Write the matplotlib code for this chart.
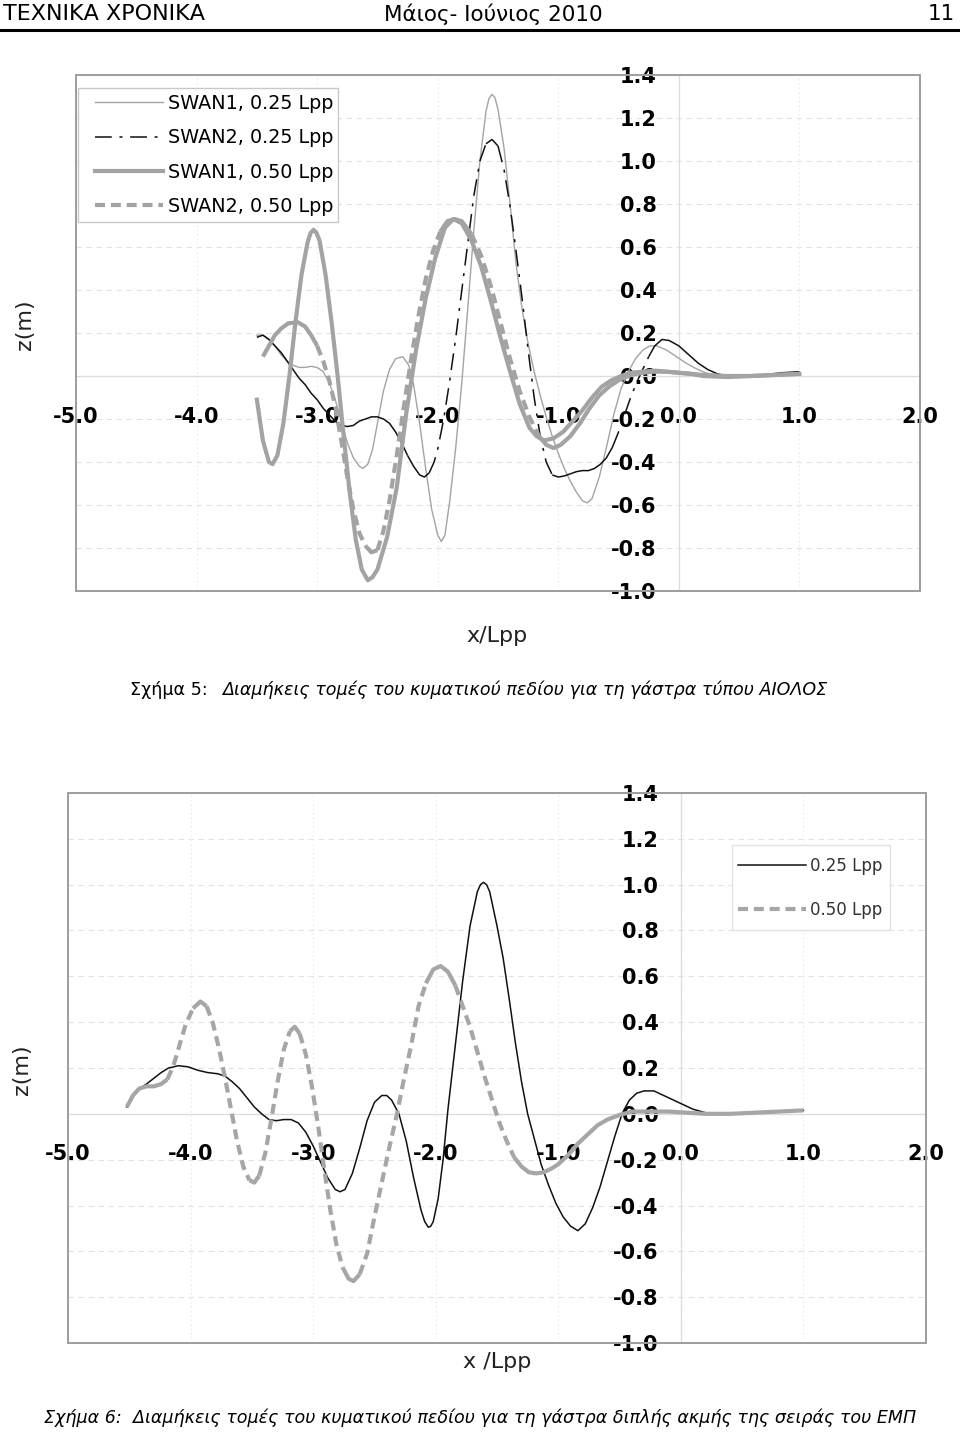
import numpy as np
import matplotlib
matplotlib.use('Agg')
import matplotlib.pyplot as plt
from matplotlib.lines import Line2D
from matplotlib.patches import Rectangle

plt.rcParams['font.family'] = ['DejaVu Sans', 'Noto Sans']

# ---------------- Figure 5 (AIOLOS hull), x/Lpp vs z(m) ----------------
x_swan1_025 = [-3.50, -3.45, -3.40, -3.35, -3.30, -3.25, -3.20, -3.15, -3.10, -3.05,
               -3.00, -2.95, -2.90, -2.85, -2.80, -2.75, -2.70, -2.65, -2.62, -2.58,
               -2.54, -2.50, -2.45, -2.40, -2.35, -2.29, -2.24, -2.20, -2.15, -2.10,
               -2.05, -2.00, -1.97, -1.94, -1.90, -1.85, -1.80, -1.75, -1.70, -1.65,
               -1.60, -1.575, -1.55, -1.525, -1.50, -1.45, -1.40, -1.35, -1.30, -1.25,
               -1.20, -1.15, -1.10, -1.05, -1.00, -0.95, -0.90, -0.85, -0.80, -0.76,
               -0.72, -0.66, -0.60, -0.54, -0.48, -0.42, -0.36, -0.30, -0.24, -0.18,
               -0.10, -0.02, 0.06, 0.14, 0.22, 0.30, 0.45, 0.60, 0.80, 1.00]
z_swan1_025 = [0.19, 0.19, 0.17, 0.14, 0.10, 0.07, 0.05, 0.04, 0.04, 0.045,
               0.04, 0.02, -0.03, -0.11, -0.21, -0.31, -0.38, -0.42, -0.43, -0.41,
               -0.34, -0.22, -0.07, 0.03, 0.08, 0.09, 0.05, -0.04, -0.22, -0.43,
               -0.62, -0.74, -0.77, -0.74, -0.58, -0.33, -0.03, 0.32, 0.68, 1.00,
               1.23, 1.29, 1.31, 1.295, 1.24, 1.06, 0.80, 0.52, 0.31, 0.15,
               0.02, -0.09, -0.19, -0.28, -0.36, -0.43, -0.49, -0.54, -0.58, -0.59,
               -0.57, -0.47, -0.33, -0.18, -0.06, 0.02, 0.08, 0.12, 0.14, 0.14,
               0.12, 0.09, 0.06, 0.035, 0.015, 0.005, 0.0, 0.0, 0.005, 0.01]

x_swan2_025 = [-3.50, -3.45, -3.40, -3.35, -3.30, -3.25, -3.20, -3.15, -3.10, -3.05,
               -3.00, -2.95, -2.90, -2.85, -2.80, -2.75, -2.70, -2.65, -2.60, -2.55,
               -2.50, -2.45, -2.40, -2.35, -2.30, -2.25, -2.20, -2.15, -2.11, -2.07,
               -2.03, -2.00, -1.95, -1.90, -1.85, -1.80, -1.75, -1.70, -1.65, -1.60,
               -1.55, -1.50, -1.45, -1.40, -1.35, -1.30, -1.25, -1.20, -1.15, -1.10,
               -1.05, -1.00, -0.95, -0.90, -0.85, -0.80, -0.75, -0.70, -0.65, -0.60,
               -0.55, -0.50, -0.45, -0.40, -0.35, -0.30, -0.25, -0.20, -0.14, -0.08,
               0.00, 0.08, 0.16, 0.24, 0.32, 0.40, 0.55, 0.70, 0.85, 1.00]
z_swan2_025 = [0.18, 0.19, 0.17, 0.14, 0.11, 0.07, 0.03, -0.01, -0.04, -0.08,
               -0.11, -0.15, -0.18, -0.21, -0.23, -0.235, -0.23, -0.21, -0.20, -0.19,
               -0.19, -0.20, -0.22, -0.26, -0.31, -0.37, -0.42, -0.46, -0.47, -0.45,
               -0.40, -0.34, -0.20, -0.02, 0.18, 0.40, 0.62, 0.84, 1.00, 1.08,
               1.10, 1.07, 0.96, 0.79, 0.58, 0.36, 0.12, -0.10, -0.28, -0.40,
               -0.46, -0.47, -0.465, -0.455, -0.445, -0.44, -0.44, -0.43, -0.41, -0.38,
               -0.33, -0.26, -0.18, -0.10, -0.03, 0.03, 0.09, 0.14, 0.17, 0.165,
               0.14, 0.10, 0.06, 0.03, 0.01, 0.0, 0.0, 0.005, 0.015, 0.02]

x_swan1_050 = [-3.50, -3.45, -3.40, -3.37, -3.33, -3.28, -3.23, -3.18, -3.13, -3.08,
               -3.055, -3.03, -3.005, -2.98, -2.93, -2.88, -2.83, -2.78, -2.73, -2.68,
               -2.63, -2.58, -2.54, -2.50, -2.42, -2.34, -2.26, -2.18, -2.10, -2.02,
               -1.94, -1.87, -1.80, -1.72, -1.64, -1.56, -1.48, -1.40, -1.32, -1.24,
               -1.18, -1.12, -1.04, -0.96, -0.88, -0.80, -0.72, -0.64, -0.56, -0.48,
               -0.40, -0.30, -0.20, -0.10, 0.00, 0.10, 0.20, 0.40, 0.60, 0.80,
               1.00]
z_swan1_050 = [-0.11, -0.30, -0.40, -0.41, -0.37, -0.22, 0.00, 0.25, 0.47, 0.62,
               0.665, 0.68, 0.665, 0.63, 0.47, 0.25, 0.00, -0.28, -0.54, -0.76,
               -0.90, -0.95, -0.935, -0.90, -0.75, -0.52, -0.17, 0.12, 0.36, 0.55,
               0.69, 0.73, 0.71, 0.63, 0.51, 0.35, 0.18, 0.02, -0.13, -0.24,
               -0.28, -0.30, -0.29, -0.26, -0.21, -0.16, -0.10, -0.05, -0.02, 0.00,
               0.015, 0.02, 0.025, 0.02, 0.015, 0.01, 0.005, 0.0, 0.0, 0.005,
               0.01]

x_swan2_050 = [-3.45, -3.40, -3.35, -3.30, -3.24, -3.16, -3.10, -3.05, -3.00, -2.95,
               -2.90, -2.85, -2.80, -2.75, -2.70, -2.65, -2.60, -2.55, -2.50, -2.45,
               -2.40, -2.34, -2.28, -2.22, -2.16, -2.10, -2.04, -1.98, -1.92, -1.86,
               -1.80, -1.72, -1.64, -1.56, -1.48, -1.40, -1.32, -1.24, -1.16, -1.10,
               -1.04, -0.98, -0.90, -0.82, -0.74, -0.66, -0.58, -0.50, -0.40, -0.30,
               -0.20, -0.10, 0.00, 0.10, 0.20, 0.40, 0.60, 0.80, 1.00]
z_swan2_050 = [0.09, 0.14, 0.19, 0.22, 0.245, 0.25, 0.23, 0.19, 0.14, 0.07,
               -0.02, -0.14, -0.30, -0.47, -0.62, -0.73, -0.79, -0.82, -0.81, -0.72,
               -0.58, -0.37, -0.14, 0.08, 0.28, 0.45, 0.58, 0.67, 0.72, 0.73,
               0.72, 0.66, 0.56, 0.42, 0.25, 0.08, -0.07, -0.19, -0.28, -0.32,
               -0.335, -0.32, -0.28, -0.22, -0.15, -0.09, -0.05, -0.02, 0.005, 0.015,
               0.02, 0.02, 0.015, 0.01, 0.0, -0.005, 0.0, 0.005, 0.01]

# ---------------- Figure 6 (double chine hull) ----------------
x_025 = [-4.52, -4.47, -4.42, -4.36, -4.30, -4.24, -4.18, -4.10, -4.02, -3.94,
         -3.86, -3.78, -3.72, -3.66, -3.60, -3.54, -3.48, -3.42, -3.36, -3.30,
         -3.24, -3.18, -3.12, -3.06, -3.00, -2.94, -2.88, -2.82, -2.78, -2.74,
         -2.68, -2.62, -2.56, -2.50, -2.44, -2.40, -2.36, -2.30, -2.24, -2.18,
         -2.12, -2.09, -2.06, -2.04, -2.02, -1.98, -1.94, -1.90, -1.84, -1.78,
         -1.72, -1.66, -1.635, -1.61, -1.585, -1.56, -1.50, -1.45, -1.40, -1.35,
         -1.30, -1.25, -1.20, -1.14, -1.08, -1.02, -0.96, -0.90, -0.84, -0.78,
         -0.72, -0.66, -0.60, -0.54, -0.48, -0.42, -0.36, -0.30, -0.22, -0.14,
         -0.06, 0.02, 0.10, 0.20, 0.30, 0.50, 0.70, 0.85, 1.00]
z_025 = [0.03, 0.08, 0.11, 0.13, 0.155, 0.18, 0.20, 0.21, 0.205, 0.19,
         0.18, 0.175, 0.165, 0.14, 0.11, 0.07, 0.03, 0.0, -0.025, -0.03,
         -0.025, -0.025, -0.04, -0.08, -0.14, -0.21, -0.28, -0.33, -0.34, -0.33,
         -0.26, -0.15, -0.03, 0.05, 0.08, 0.08, 0.06, 0.0, -0.12, -0.28,
         -0.42, -0.47, -0.495, -0.49, -0.47, -0.37, -0.20, 0.02, 0.30, 0.58,
         0.82, 0.97, 1.00, 1.01, 1.00, 0.97, 0.82, 0.68, 0.50, 0.31,
         0.14, 0.0, -0.10, -0.22, -0.31, -0.39, -0.45, -0.49, -0.51, -0.48,
         -0.41, -0.32, -0.21, -0.10, 0.0, 0.06, 0.09, 0.10, 0.10, 0.08,
         0.06, 0.04, 0.02, 0.005, 0.0, 0.0, 0.005, 0.01, 0.015]

x_050 = [-4.52, -4.47, -4.42, -4.36, -4.30, -4.24, -4.19, -4.14, -4.09, -4.04,
         -3.98, -3.92, -3.87, -3.82, -3.77, -3.72, -3.67, -3.62, -3.57, -3.52,
         -3.48, -3.44, -3.39, -3.34, -3.29, -3.24, -3.19, -3.15, -3.11, -3.06,
         -3.01, -2.96, -2.91, -2.86, -2.81, -2.76, -2.71, -2.67, -2.62, -2.56,
         -2.50, -2.44, -2.38, -2.32, -2.26, -2.20, -2.14, -2.08, -2.02, -1.96,
         -1.90, -1.84, -1.78, -1.72, -1.66, -1.60, -1.54, -1.48, -1.42, -1.36,
         -1.30, -1.24, -1.18, -1.12, -1.06, -1.00, -0.92, -0.84, -0.76, -0.68,
         -0.60, -0.50, -0.40, -0.25, -0.10, 0.05, 0.20, 0.40, 0.60, 0.80,
         1.00]
z_050 = [0.03, 0.08, 0.11, 0.12, 0.12, 0.13, 0.15, 0.21, 0.30, 0.39,
         0.46, 0.49, 0.47, 0.40, 0.29, 0.16, 0.02, -0.12, -0.23, -0.29,
         -0.30, -0.27, -0.17, -0.02, 0.14, 0.28, 0.36, 0.38, 0.35, 0.26,
         0.12, -0.05, -0.24, -0.42, -0.57, -0.67, -0.72, -0.73, -0.70, -0.61,
         -0.45, -0.30, -0.15, -0.01, 0.15, 0.30, 0.47, 0.57, 0.63, 0.645,
         0.62, 0.56, 0.47, 0.38, 0.27, 0.16, 0.06, -0.04, -0.12, -0.19,
         -0.23, -0.255, -0.26, -0.255, -0.24, -0.22, -0.18, -0.13, -0.09, -0.05,
         -0.025, -0.005, 0.01, 0.01, 0.01, 0.005, 0.0, 0.0, 0.005, 0.01,
         0.015]

xticks = [-5, -4, -3, -2, -1, 0, 1, 2]
yticks = [-1.0, -0.8, -0.6, -0.4, -0.2, 0.0, 0.2, 0.4, 0.6, 0.8, 1.0, 1.2, 1.4]

legend5 = ['SWAN1, 0.25 Lpp', 'SWAN2, 0.25 Lpp', 'SWAN1, 0.50 Lpp', 'SWAN2, 0.50 Lpp']
legend6 = ['0.25 Lpp', '0.50 Lpp']

W, H = 960.0, 1432.0
GRAY = '#a3a3a3'
BLACK = '#111111'
DASH = (0, (2.4, 1.4))
DASHDOT = (0, (11, 5, 2, 5))


def fx(px):
    return px / W


def fy(py):
    return 1.0 - py / H


def setup(ax):
    ax.set_xlim(-5, 2)
    ax.set_ylim(-1.0, 1.4)
    ax.set_xticks(xticks)
    ax.set_xticklabels(['%.1f' % v for v in xticks])
    ax.set_yticks(yticks)
    ax.set_yticklabels(['%.1f' % v for v in yticks])
    ax.spines['top'].set_visible(False)
    ax.spines['right'].set_visible(False)
    for s in ['left', 'bottom']:
        ax.spines[s].set_position(('data', 0))
        ax.spines[s].set_color('#dcdcdc')
        ax.spines[s].set_linewidth(0.9)
    ax.tick_params(length=0, labelsize=15)
    ax.tick_params(axis='x', pad=22)
    ax.tick_params(axis='y', pad=16)
    for t in ax.get_xticklabels() + ax.get_yticklabels():
        t.set_fontweight('bold')
    for v in yticks:
        ax.axhline(v, color='#e2e2e2', lw=0.8, ls=(0, (5, 4)), zorder=0)
    for v in xticks:
        ax.axvline(v, color='#ebebeb', lw=0.8, ls=(0, (1.5, 2.5)), zorder=0)
    ax.add_patch(Rectangle((0, 0), 1, 1, transform=ax.transAxes, fill=False,
                           ec='#9d9d9d', lw=1.4, clip_on=False, zorder=6))


def excel_line(ax, x, z, color, lw, ls, steep=2.0):
    # excel restarts the dash pattern at every data point, so a dashed series
    # only shows its gaps where the curve is steep; copy that look
    x = np.asarray(x)
    z = np.asarray(z)
    if ls == '-':
        ax.plot(x, z, color=color, lw=lw, solid_joinstyle='round', zorder=3)
        return
    p = ax.transData.transform(np.column_stack([x, z]))
    d = np.diff(p, axis=0)
    is_steep = np.abs(d[:, 1]) > steep * np.abs(d[:, 0])
    n = len(is_steep)
    i0 = 0
    for i in range(1, n + 1):
        if i == n or is_steep[i] != is_steep[i0]:
            style = ls if is_steep[i0] else '-'
            ax.plot(x[i0:i + 1], z[i0:i + 1], color=color, lw=lw, ls=style,
                    solid_capstyle='butt', dash_capstyle='butt', zorder=3)
            i0 = i


fig = plt.figure(figsize=(9.6, 14.32), dpi=100)

# page header
fig.text(fx(3), fy(14), 'ΤΕΧΝΙΚΑ ΧΡΟΝΙΚΑ', ha='left', va='center', fontsize=16)
fig.text(fx(493), fy(14), 'Μάιος- Ιούνιος 2010', ha='center', va='center', fontsize=15.5)
fig.text(fx(955), fy(14), '11', ha='right', va='center', fontsize=15.5)
fig.add_artist(Line2D([0, 1], [fy(30), fy(30)], color='black', lw=2.2,
                      transform=fig.transFigure))

# ---- chart 1 ----
ax1 = fig.add_axes([fx(76), fy(591), fx(920) - fx(76), fy(75) - fy(591)])
setup(ax1)
excel_line(ax1, x_swan1_025, z_swan1_025, GRAY, 1.0, '-')
excel_line(ax1, x_swan2_025, z_swan2_025, BLACK, 1.1, DASHDOT)
excel_line(ax1, x_swan1_050, z_swan1_050, GRAY, 3.0, '-')
excel_line(ax1, x_swan2_050, z_swan2_050, GRAY, 3.0, DASH)

fig.add_artist(Rectangle((fx(78), fy(222)), fx(338) - fx(78), fy(88) - fy(222),
                         transform=fig.transFigure, fc='white', ec='#c8c8c8', lw=1.0))
h5 = [Line2D([], [], color=GRAY, lw=1.0),
      Line2D([], [], color=BLACK, lw=1.1, ls=DASHDOT),
      Line2D([], [], color=GRAY, lw=3.0),
      Line2D([], [], color=GRAY, lw=3.0, ls=DASH)]
fig.legend(h5, legend5, loc='upper left', bbox_to_anchor=(fx(95), fy(94)),
           frameon=False, borderpad=0, borderaxespad=0, handlelength=3.55,
           handletextpad=0.26, labelspacing=0.80, fontsize=13.8)

fig.text(fx(25), fy(325), 'z(m)', rotation=90, ha='center', va='center',
         fontsize=16, color='#222222')
fig.text(fx(497), fy(636), 'x/Lpp', ha='center', va='center', fontsize=16, color='#222222')

fig.text(fx(130), fy(690), 'Σχήμα 5:', ha='left', va='center', fontsize=12.6)
fig.text(fx(222), fy(690), 'Διαμήκεις τομές του κυματικού πεδίου για τη γάστρα τύπου ΑΙΟΛΟΣ',
         ha='left', va='center', fontsize=12.6, style='italic')

# ---- chart 2 ----
ax2 = fig.add_axes([fx(68), fy(1343), fx(926) - fx(68), fy(793) - fy(1343)])
setup(ax2)
excel_line(ax2, x_025, z_025, BLACK, 1.1, '-')
excel_line(ax2, x_050, z_050, '#a6a6a6', 3.0, DASH)

fig.add_artist(Rectangle((fx(732), fy(930)), fx(890) - fx(732), fy(845) - fy(930),
                         transform=fig.transFigure, fc='white', ec='#e2e2e2', lw=1.0))
h6 = [Line2D([], [], color=BLACK, lw=1.1),
      Line2D([], [], color='#a6a6a6', lw=3.0, ls=DASH)]
fig.legend(h6, legend6, loc='upper left', bbox_to_anchor=(fx(738), fy(857)),
           frameon=False, borderpad=0, borderaxespad=0, handlelength=4.1,
           handletextpad=0.25, labelspacing=1.55, fontsize=12, labelcolor='#333333')

fig.text(fx(22), fy(1070), 'z(m)', rotation=90, ha='center', va='center',
         fontsize=16, color='#222222')
fig.text(fx(497), fy(1362), 'x /Lpp', ha='center', va='center', fontsize=16, color='#222222')

fig.text(fx(480), fy(1418),
         'Σχήμα 6:  Διαμήκεις τομές του κυματικού πεδίου για τη γάστρα διπλής ακμής της σειράς του ΕΜΠ',
         ha='center', va='center', fontsize=12.6, style='italic')

fig.savefig('out.png', dpi=100)
